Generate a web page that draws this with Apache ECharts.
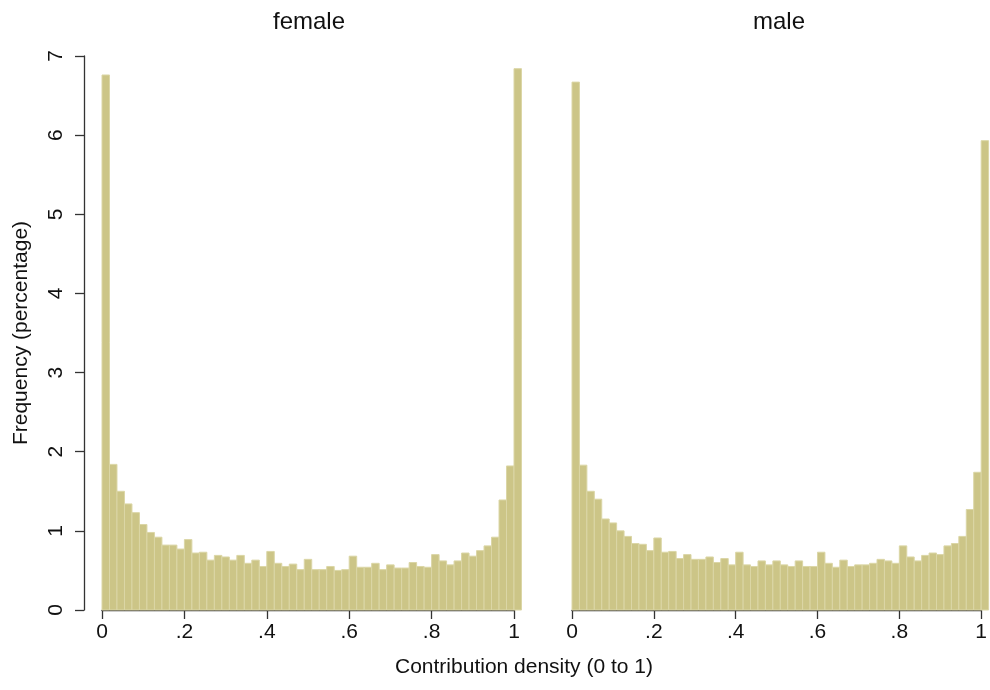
<!DOCTYPE html>
<html>
<head>
<meta charset="utf-8">
<script src="https://cdn.jsdelivr.net/npm/echarts@6/dist/echarts.min.js"></script>
<style>html,body{margin:0;padding:0;background:#fff}#c{width:990px;height:690px}</style>
</head>
<body>
<div id="c"></div>
<script>
const panelTitles = ['female', 'male'];
const binWidth = 1 / 55;
const femaleFreq = [6.76, 1.84, 1.50, 1.34, 1.23, 1.08, 0.98, 0.92, 0.82, 0.82, 0.77,
  0.89, 0.72, 0.73, 0.63, 0.69, 0.67, 0.63, 0.69, 0.59, 0.63, 0.55,
  0.74, 0.59, 0.55, 0.58, 0.51, 0.64, 0.51, 0.51, 0.55, 0.50, 0.51,
  0.68, 0.54, 0.54, 0.59, 0.51, 0.57, 0.53, 0.53, 0.60, 0.55, 0.54,
  0.70, 0.62, 0.57, 0.62, 0.72, 0.68, 0.75, 0.81, 0.92, 1.39, 1.82, 6.84];
const maleFreq = [6.67, 1.83, 1.50, 1.40, 1.15, 1.10, 1.00, 0.93, 0.84, 0.83, 0.75,
  0.91, 0.73, 0.74, 0.65, 0.70, 0.64, 0.64, 0.67, 0.60, 0.65, 0.57,
  0.73, 0.57, 0.55, 0.62, 0.57, 0.62, 0.57, 0.55, 0.62, 0.55, 0.55,
  0.73, 0.59, 0.54, 0.63, 0.55, 0.57, 0.57, 0.59, 0.64, 0.62, 0.59,
  0.81, 0.67, 0.62, 0.69, 0.72, 0.70, 0.81, 0.84, 0.93, 1.27, 1.74, 5.93];
const xTickLabels = ['0', '.2', '.4', '.6', '.8', '1'];
const yTickLabels = ['0', '1', '2', '3', '4', '5', '6', '7'];
const xTitle = 'Contribution density (0 to 1)';
const yTitle = 'Frequency (percentage)';

const FONT = '"Liberation Sans", Arial, Helvetica, sans-serif';
const chart = echarts.init(document.getElementById('c'), null, {renderer: 'canvas'});

function toData(arr) {
  return arr.map((v, i) => [i * binWidth, (i + 1) * binWidth, v]);
}
function renderItem(params, api) {
  const p0 = api.coord([api.value(0), api.value(2)]);
  const p1 = api.coord([api.value(1), 0]);
  return {
    type: 'rect',
    shape: {x: p0[0], y: p0[1], width: p1[0] - p0[0], height: p1[1] - p0[1]},
    style: {fill: '#ccc587', stroke: '#dbd6a6', lineWidth: 1}
  };
}
const axisLineStyle = {color: '#333', width: 1.3};
function xAxisDef(gi) {
  return {
    type: 'value', gridIndex: gi, min: 0, max: 1, interval: 0.2,
    axisLine: {show: true, lineStyle: axisLineStyle},
    axisTick: {show: true, length: 9, lineStyle: axisLineStyle},
    splitLine: {show: false},
    axisLabel: {
      margin: 12, color: '#111', fontSize: 21, fontFamily: FONT,
      formatter: (v) => xTickLabels[Math.round(v / 0.2)]
    }
  };
}
chart.setOption({
  animation: false,
  backgroundColor: '#fff',
  grid: [
    {left: 102, width: 412, top: 56, height: 554},
    {left: 572, width: 412.5, top: 56, height: 554},
    {left: 84, width: 10, top: 56, height: 554}
  ],
  xAxis: [
    xAxisDef(0),
    xAxisDef(1),
    {type: 'value', gridIndex: 2, min: 0, max: 1, show: false}
  ],
  yAxis: [
    {type: 'value', gridIndex: 0, min: 0, max: 7, interval: 1, show: false},
    {type: 'value', gridIndex: 1, min: 0, max: 7, interval: 1, show: false},
    {
      type: 'value', gridIndex: 2, position: 'left', min: 0, max: 7, interval: 1,
      axisLine: {show: true, lineStyle: axisLineStyle},
      axisTick: {show: true, length: 9, lineStyle: axisLineStyle},
      splitLine: {show: false},
      axisLabel: {
        rotate: 90, margin: 17, color: '#111', fontSize: 21, fontFamily: FONT,
        formatter: (v) => yTickLabels[Math.round(v)]
      },
      name: yTitle, nameLocation: 'middle', nameGap: 52, nameRotate: 90,
      nameTextStyle: {color: '#111', fontSize: 21, fontFamily: FONT}
    }
  ],
  series: [
    {type: 'custom', xAxisIndex: 0, yAxisIndex: 0, clip: false, renderItem, data: toData(femaleFreq)},
    {type: 'custom', xAxisIndex: 1, yAxisIndex: 1, clip: false, renderItem, data: toData(maleFreq)}
  ],
  graphic: [
    {type: 'text', x: 309, y: 22, style: {text: panelTitles[0], fill: '#111', font: '24px ' + FONT, textAlign: 'center', textVerticalAlign: 'middle'}},
    {type: 'text', x: 779, y: 22, style: {text: panelTitles[1], fill: '#111', font: '24px ' + FONT, textAlign: 'center', textVerticalAlign: 'middle'}},
    {type: 'text', x: 524, y: 667, style: {text: xTitle, fill: '#111', font: '21px ' + FONT, textAlign: 'center', textVerticalAlign: 'middle'}}
  ]
});
</script>
</body>
</html>
